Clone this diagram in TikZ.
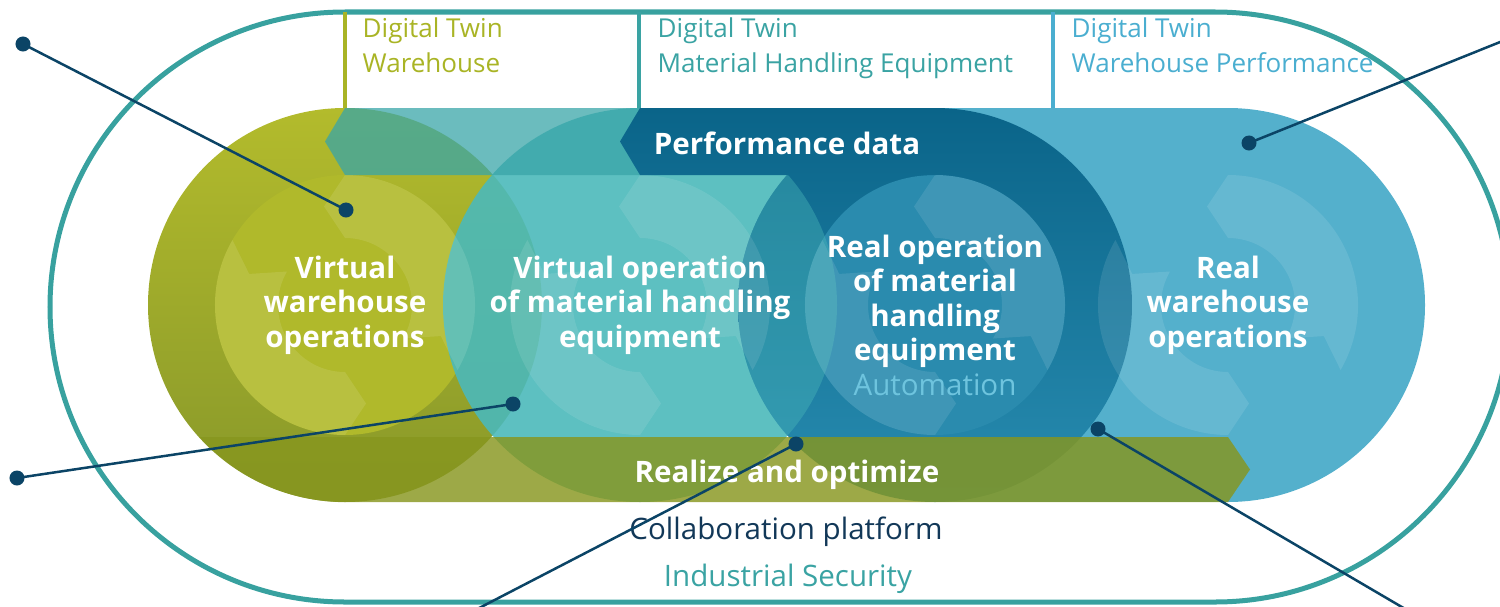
\documentclass[tikz,border=0pt]{standalone}
\usepackage{fontspec}
\setmainfont{Open Sans}
\usepackage{tikz}
\usetikzlibrary{calc,positioning}
\definecolor{olivegr}{RGB}{176,185,43}
\definecolor{olivetop}{RGB}{179,187,44}
\definecolor{olivebot}{RGB}{136,152,42}
\definecolor{tealc}{RGB}{75,185,186}
\definecolor{tealband}{RGB}{57,165,168}
\definecolor{darkring}{RGB}{10,100,137}
\definecolor{darkringb}{RGB}{40,140,176}
\definecolor{darkin}{RGB}{42,139,174}
\definecolor{lightbl}{RGB}{84,176,204}
\definecolor{realize}{RGB}{135,150,30}
\definecolor{navy}{RGB}{11,68,102}
\definecolor{frame}{RGB}{56,161,159}
\definecolor{collab}{RGB}{18,56,88}
\definecolor{autom}{RGB}{110,196,222}
\definecolor{hdolive}{RGB}{169,180,37}
\definecolor{hdteal}{RGB}{58,163,163}
\definecolor{hdblue}{RGB}{74,174,208}

\begin{document}
\begin{tikzpicture}[x=0.01cm,y=0.01cm,
    lbl/.style={text=white,font=\fontsize{8.4}{9.8}\selectfont\bfseries,align=center,anchor=base,inner sep=0pt},
    plain/.style={font=\fontsize{8.4}{9.8}\selectfont,anchor=base,inner sep=0pt},
    hdr/.style={font=\fontsize{7.4}{9.7}\selectfont,align=left,anchor=base west,inner sep=0pt},
    dot/.style={circle,fill=navy,inner sep=0pt,minimum size=0.15cm},
    callout/.style={navy,line width=0.025cm},
    arcl/.style={white,opacity=0.1}]

    \useasboundingbox (0,0) rectangle (1500,-606);

    % outer frame and header rules
    \draw[frame,line width=0.05cm] (345,-12) -- (1215,-12) arc[start angle=90,end angle=-90,radius=295]
        -- (345,-602) arc[start angle=270,end angle=90,radius=295] -- cycle;
    \draw[hdolive,line width=0.04cm] (345,-12) -- (345,-108);
    \draw[hdteal,line width=0.04cm] (639,-12) -- (639,-108);
    \draw[hdblue,line width=0.04cm] (1053,-12) -- (1053,-108);

    % circles
    \fill[lightbl] (935,-108) rectangle (1228,-502);
    \fill[lightbl] (1228,-305) circle (197);
    \shade[top color=olivetop,bottom color=olivebot] (345,-305) circle (197);
    \fill[olivegr] (345,-305) circle (130);
    \fill[tealc,opacity=0.9] (640,-305) circle (197);
    \shade[top color=darkring,bottom color=darkringb] (935,-305) circle (197);
    \fill[darkin] (935,-305) circle (130);
    \begin{scope}
        \clip (640,-305) circle (197);
        \fill[tealc,opacity=0.4] (935,-305) circle (197);
    \end{scope}

    % circular arrows
    \foreach \cx in {345,640,935,1228}{
        \foreach \s/\e in {-30/90,150/270}{
            \fill[arcl] ($(\cx,-305)+(\s:130)$) arc[start angle=\s,end angle=\e,radius=130]
                -- ($(\cx,-305)+(\e:98.5)+({\e+90}:21)$) -- ($(\cx,-305)+(\e:67)$)
                arc[start angle=\e,end angle=\s,radius=67]
                -- ($(\cx,-305)+(\s:98.5)+({\s+90}:21)$) -- cycle;
        }
    }

    % bands
    \fill[tealband,opacity=0.75] (325,-141.5) -- (345,-108) -- (660,-108) -- (660,-175) -- (345,-175) -- cycle;
    \shade[top color=darkring,bottom color=darkring!83!darkringb] (620,-141.5) -- (640,-108) -- (936,-108) -- (936,-175) -- (640,-175) -- cycle;
    \fill[realize,opacity=0.82] (1228,-437) -- (199.6,-437) arc[start angle=222,end angle=270,radius=197]
        -- (1228,-502) -- (1250,-469.5) -- cycle;

    % labels
    \node[hdr,text=hdolive] (dtw) at (362,-72) {Digital Twin\\Warehouse};
    \node[hdr,text=hdteal] (dtm) at (657,-72) {Digital Twin\\Material Handling Equipment};
    \node[hdr,text=hdblue] (dtp) at (1071,-72) {Digital Twin\\Warehouse Performance};

    \node[lbl] (vwo) at (345,-347) {Virtual\\warehouse\\operations};
    \node[lbl] (vom) at (640,-347) {Virtual operation\\of material handling\\equipment};
    \node[lbl] (rom) at (935,-395) {Real operation\\of material\\handling\\equipment\\{\mdseries\color{autom}Automation}};
    \node[lbl] (rwo) at (1228,-347) {Real\\warehouse\\operations};
    \node[lbl] (perf) at (787,-154) {Performance data};
    \node[lbl] (real) at (787,-482) {Realize and optimize};
    \node[plain,text=collab] (collab) at (786,-539) {Collaboration platform};
    \node[plain,text=hdteal] (secur) at (788,-586) {Industrial Security};

    % callouts
    \node[dot] (p1) at (23,-44) {};
    \node[dot] (q1) at (346,-210) {};
    \node[dot] (p2) at (17,-478) {};
    \node[dot] (q2) at (513,-404) {};
    \node[dot] (q3) at (796,-444) {};
    \coordinate (p3) at (456,-620);
    \node[dot] (q4) at (1249,-143) {};
    \coordinate (p4) at (1520,-34);
    \node[dot] (q5) at (1098,-429) {};
    \coordinate (p5) at (1424,-620);
    \foreach \a/\b in {p1/q1,p2/q2,p3/q3,p4/q4,p5/q5}
        \draw[callout] (\a.center) -- (\b.center);
\end{tikzpicture}
\end{document}
